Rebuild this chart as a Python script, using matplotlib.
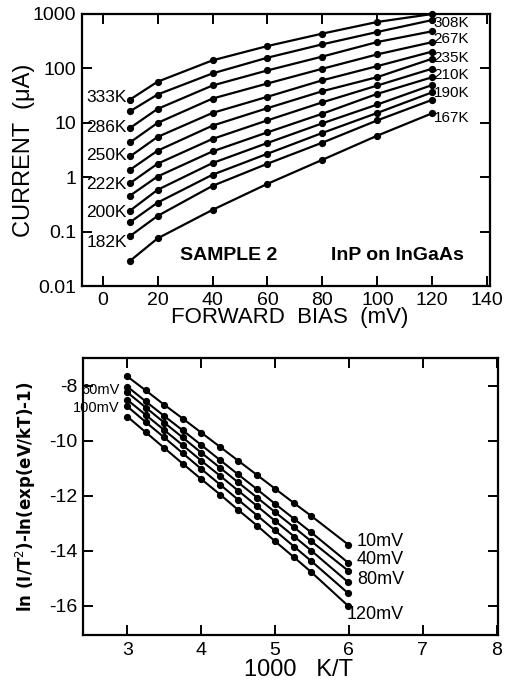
import matplotlib
matplotlib.use("Agg")
import matplotlib.pyplot as plt
from matplotlib import font_manager
from matplotlib.ticker import FixedLocator, FixedFormatter, NullLocator

# ---------------- data: top panel (I-V at several temperatures) ----------------
bias_mV = [10, 20, 40, 60, 80, 100, 120]
temps_K = [333, 308, 286, 267, 250, 235, 222, 210, 200, 190, 182, 167]
current_uA = [
    [26.8, 56.9, 140.6, 257.6, 436.5, 714.5, 1000.0],   # 333 K
    [16.3, 33.1, 80.9, 157.4, 277.3, 467.7, 774.5],     # 308 K
    [8.05, 18.0, 48.5, 91.8, 165.2, 305.5, 482.0],      # 286 K
    [4.37, 9.95, 27.9, 52.8, 98.6, 181.1, 304.1],       # 267 K
    [2.41, 5.50, 15.2, 30.1, 60.5, 110.2, 204.2],       # 250 K
    [1.37, 3.07, 8.87, 18.6, 38.1, 69.2, 151.0],        # 235 K
    [0.778, 1.77, 5.05, 11.1, 23.8, 48.5, 99.1],        # 222 K
    [0.459, 1.03, 2.98, 6.68, 14.7, 34.1, 68.9],        # 210 K
    [0.243, 0.586, 1.82, 4.26, 9.79, 21.7, 49.7],       # 200 K
    [0.149, 0.341, 1.11, 2.70, 6.52, 15.2, 36.4],       # 190 K
    [0.083, 0.194, 0.693, 1.77, 4.32, 11.1, 26.5],      # 182 K
    [0.029, 0.075, 0.251, 0.755, 2.09, 5.81, 15.0],     # 167 K
]
left_labels = ["333K", "286K", "250K", "222K", "200K", "182K"]
left_label_y = [29.0, 8.3, 2.5, 0.72, 0.223, 0.062]
right_labels = ["308K", "267K", "235K", "210K", "190K", "167K"]
right_label_y = [697.0, 343.0, 157.0, 76.0, 36.0, 12.5]
top_xticks = [0, 20, 40, 60, 80, 100, 120, 140]
top_yticks = [0.01, 0.1, 1, 10, 100, 1000]
top_yticklabels = ["0.01", "0.1", "1", "10", "100", "1000"]

# ---------------- data: bottom panel (activation plot) ----------------
inv_T = [3.00, 3.25, 3.50, 3.75, 4.00, 4.26, 4.50, 4.76, 5.00, 5.26, 5.49, 5.99]
bias_lines_mV = [10, 40, 60, 80, 100, 120]
act_values = [
    [-7.67, -8.18, -8.70, -9.20, -9.71, -10.24, -10.73, -11.26, -11.75, -12.28, -12.74, -13.78],
    [-8.04, -8.58, -9.11, -9.63, -10.16, -10.72, -11.23, -11.78, -12.30, -12.85, -13.34, -14.44],
    [-8.25, -8.80, -9.35, -9.89, -10.44, -11.00, -11.52, -12.08, -12.60, -13.16, -13.66, -14.73],
    [-8.52, -9.07, -9.62, -10.17, -10.73, -11.29, -11.82, -12.39, -12.92, -13.49, -14.00, -15.15],
    [-8.76, -9.33, -9.89, -10.46, -11.03, -11.61, -12.15, -12.73, -13.27, -13.86, -14.38, -15.55],
    [-9.13, -9.70, -10.27, -10.84, -11.40, -11.97, -12.52, -13.10, -13.66, -14.25, -14.78, -16.01],
]
bottom_right_labels = ["10mV", "40mV", "80mV", "120mV"]
bottom_right_y = [-13.67, -14.34, -15.05, -16.33]
bottom_left_labels = ["60mV", "100mV"]
bottom_left_y = [-8.18, -8.80]
bot_xticks = [3, 4, 5, 6, 7, 8]
bot_yticks = [-16, -14, -12, -10, -8]

# ---------------- fonts ----------------
names = {f.name for f in font_manager.fontManager.ttflist}
base = "Liberation Sans" if "Liberation Sans" in names else "DejaVu Sans"
plt.rcParams["font.family"] = [base, "DejaVu Sans"]
plt.rcParams["axes.unicode_minus"] = False

fig = plt.figure(figsize=(5.14, 6.90), dpi=100)
fig.patch.set_facecolor("white")

# ================= top panel =================
ax1 = fig.add_axes([82 / 514, 1 - 286 / 690, 408 / 514, 272 / 690])
for row in current_uA:
    ax1.plot(bias_mV, row, color="black", lw=1.6, marker="o", ms=4.2,
             mfc="black", mec="black", clip_on=False, zorder=3)
ax1.set_yscale("log")
ax1.set_xlim(-7.5, 141)
ax1.set_ylim(0.01, 1000)
ax1.xaxis.set_major_locator(FixedLocator(top_xticks))
ax1.yaxis.set_major_locator(FixedLocator(top_yticks))
ax1.yaxis.set_major_formatter(FixedFormatter(top_yticklabels))
ax1.yaxis.set_minor_locator(NullLocator())
ax1.tick_params(direction="in", length=7, width=1.4, top=True, right=True,
                labelsize=14, pad=4)
for s in ax1.spines.values():
    s.set_linewidth(1.6)
for lab, y in zip(left_labels, left_label_y):
    ax1.text(8.8, y, lab, ha="right", va="center", fontsize=12.5)
for lab, y in zip(right_labels, right_label_y):
    ax1.text(120.5, y, lab, ha="left", va="center", fontsize=11)
ax1.text(28.2, 0.037, "SAMPLE 2", ha="left", va="center", fontsize=14,
         fontweight="bold")
ax1.text(83, 0.037, "InP on InGaAs", ha="left", va="center", fontsize=14,
         fontweight="bold")
ax1.set_xlabel("FORWARD  BIAS  (mV)", fontsize=16, labelpad=0)
ax1.xaxis.set_label_coords(0.509, -0.078)
ax1.xaxis.label.set_va("top")
ax1.set_ylabel("CURRENT  (μA)", fontsize=17)
ax1.yaxis.set_label_coords(-0.115, 0.5)

# ================= bottom panel =================
ax2 = fig.add_axes([83 / 514, 1 - 635 / 690, 415 / 514, 277 / 690])
for row in act_values:
    ax2.plot(inv_T, row, color="black", lw=1.5, marker="o", ms=4.2,
             mfc="black", mec="black", zorder=3)
ax2.set_xlim(2.40, 8.02)
ax2.set_ylim(-17.07, -7.0)
ax2.xaxis.set_major_locator(FixedLocator(bot_xticks))
ax2.yaxis.set_major_locator(FixedLocator(bot_yticks))
ax2.tick_params(direction="in", length=7, width=1.4, top=True, right=True,
                labelsize=14, pad=5)
ax2.tick_params(axis="y", pad=4)
for s in ax2.spines.values():
    s.set_linewidth(1.6)
for lab, y in zip(bottom_right_labels, bottom_right_y):
    ax2.text(6.75, y, lab, ha="right", va="center", fontsize=13)
for lab, y in zip(bottom_left_labels, bottom_left_y):
    ax2.text(2.90, y, lab, ha="right", va="center", fontsize=10.5)
ax2.set_xlabel("1000   K/T", fontsize=17)
ax2.xaxis.set_label_coords(0.52, -0.088)
ax2.xaxis.label.set_va("top")
ax2.set_ylabel("ln (I/T$^2$)-ln(exp(eV/kT)-1)", fontsize=12, fontweight="bold",
               family="DejaVu Sans")
ax2.yaxis.set_label_coords(-0.108, 0.5)

fig.savefig("out.png", dpi=100, facecolor="white")
